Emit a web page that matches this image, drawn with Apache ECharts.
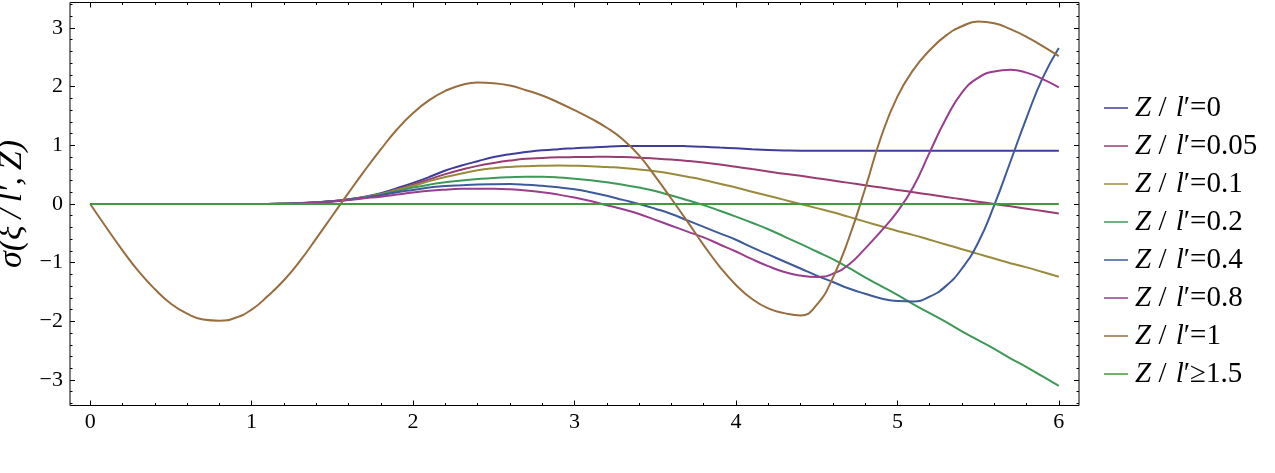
<!DOCTYPE html>
<html>
<head>
<meta charset="utf-8">
<script src="https://cdn.jsdelivr.net/npm/echarts@6/dist/echarts.min.js"></script>
<style>
html, body { margin: 0; padding: 0; background: #fff; }
#chart { width: 1275px; height: 473px; }
</style>
</head>
<body>
<div id="chart"></div>
<script>
// xi / l' sample points
var xValues = [0.0,0.1,0.2,0.3,0.4,0.5,0.6,0.7,0.8,0.9,
  1.0,1.1,1.2,1.3,1.4,1.5,1.6,1.7,1.8,1.9,
  2.0,2.1,2.2,2.3,2.4,2.5,2.6,2.7,2.8,2.9,
  3.0,3.1,3.2,3.3,3.4,3.5,3.6,3.7,3.8,3.9,
  4.0,4.1,4.2,4.3,4.4,4.5,4.6,4.7,4.8,4.9,
  5.0,5.1,5.2,5.3,5.4,5.5,5.6,5.7,5.8,5.9,6.0];

var seriesNames = ['Z / l′=0', 'Z / l′=0.05', 'Z / l′=0.1', 'Z / l′=0.2',
  'Z / l′=0.4', 'Z / l′=0.8', 'Z / l′=1', 'Z / l′≥1.5'];

var sigmaZ0 = [0,0,0,0,0,0,0,0,0,0,
  0,0,0.005,0.015,0.03,0.05,0.08,0.125,0.185,0.27,
  0.36,0.46,0.57,0.655,0.73,0.80,0.85,0.885,0.915,0.935,
  0.95,0.965,0.978,0.987,0.99,0.99,0.99,0.985,0.975,0.962,
  0.95,0.935,0.922,0.913,0.908,0.908,0.908,0.908,0.908,0.908,
  0.908,0.908,0.908,0.908,0.908,0.908,0.908,0.908,0.908,0.908,0.908];

var sigmaZ005 = [0,0,0,0,0,0,0,0,0,0,
  0,0,0.005,0.014,0.028,0.048,0.078,0.12,0.175,0.25,
  0.33,0.42,0.51,0.585,0.65,0.70,0.74,0.77,0.785,0.795,
  0.80,0.803,0.805,0.80,0.79,0.775,0.757,0.735,0.708,0.675,
  0.636,0.595,0.555,0.515,0.48,0.44,0.40,0.36,0.32,0.28,
  0.24,0.20,0.16,0.12,0.08,0.04,0.0,-0.04,-0.08,-0.12,-0.16];

var sigmaZ01 = [0,0,0,0,0,0,0,0,0,0,
  0,0,0.005,0.014,0.027,0.047,0.077,0.117,0.17,0.24,
  0.31,0.39,0.46,0.52,0.575,0.61,0.632,0.645,0.652,0.655,
  0.652,0.645,0.63,0.615,0.59,0.56,0.515,0.465,0.41,0.345,
  0.28,0.21,0.14,0.07,0.0,-0.07,-0.14,-0.22,-0.30,-0.38,
  -0.46,-0.53,-0.61,-0.69,-0.77,-0.85,-0.93,-1.01,-1.08,-1.16,-1.24];

var sigmaZ02 = [0,0,0,0,0,0,0,0,0,0,
  0,0,0.005,0.013,0.026,0.046,0.076,0.112,0.16,0.22,
  0.28,0.33,0.37,0.40,0.425,0.445,0.458,0.465,0.463,0.452,
  0.43,0.405,0.37,0.33,0.28,0.22,0.145,0.065,-0.02,-0.115,
  -0.215,-0.32,-0.43,-0.555,-0.68,-0.81,-0.94,-1.09,-1.25,-1.40,
  -1.55,-1.71,-1.86,-2.01,-2.17,-2.32,-2.47,-2.63,-2.78,-2.94,-3.10];

var sigmaZ04 = [0,0,0,0,0,0,0,0,0,0,
  0,0,0.004,0.012,0.025,0.045,0.074,0.108,0.15,0.20,
  0.24,0.28,0.305,0.32,0.332,0.338,0.34,0.33,0.31,0.285,
  0.25,0.20,0.14,0.07,0.0,-0.08,-0.17,-0.28,-0.39,-0.50,
  -0.61,-0.74,-0.86,-0.98,-1.10,-1.22,-1.33,-1.44,-1.53,-1.61,
  -1.655,-1.66,-1.58,-1.40,-1.10,-0.66,-0.02,0.72,1.47,2.15,2.66];

var sigmaZ08 = [0,0,0,0,0,0,0,0,0,0,
  0,0,0.004,0.011,0.023,0.042,0.068,0.097,0.125,0.16,
  0.195,0.225,0.245,0.258,0.262,0.26,0.25,0.23,0.20,0.16,
  0.11,0.05,-0.02,-0.09,-0.17,-0.27,-0.37,-0.47,-0.57,-0.69,
  -0.81,-0.94,-1.06,-1.16,-1.22,-1.245,-1.19,-1.03,-0.76,-0.46,
  -0.13,0.30,0.88,1.45,1.90,2.15,2.26,2.29,2.24,2.13,1.99];

var sigmaZ1 = [0,-0.40,-0.79,-1.15,-1.45,-1.70,-1.87,-1.97,-1.99,-1.94,
  -1.80,-1.57,-1.30,-0.97,-0.59,-0.20,0.19,0.57,0.93,1.27,
  1.55,1.77,1.93,2.03,2.07,2.06,2.02,1.94,1.85,1.73,
  1.60,1.46,1.30,1.10,0.83,0.47,0.09,-0.30,-0.70,-1.07,
  -1.38,-1.62,-1.78,-1.86,-1.90,-1.72,-1.26,-0.58,0.26,1.15,
  1.83,2.29,2.62,2.87,3.03,3.11,3.08,2.98,2.85,2.69,2.52];

var sigmaZ15 = [0,0,0,0,0,0,0,0,0,0,
  0,0,0,0,0,0,0,0,0,0,
  0,0,0,0,0,0,0,0,0,0,
  0,0,0,0,0,0,0,0,0,0,
  0,0,0,0,0,0,0,0,0,0,
  0,0,0,0,0,0,0,0,0,0,0];

var xTicks = [0, 6];
var yTicks = [-3, 3];
var yMinorRange = [-3.4, 3.4];

var allSeries = [sigmaZ0, sigmaZ005, sigmaZ01, sigmaZ02, sigmaZ04, sigmaZ08, sigmaZ1, sigmaZ15];

var serif = 'Liberation Serif';
var tickFont = { fontFamily: serif, fontSize: 22, color: '#000' };

function minusLabel(v) {
  return v < 0 ? '\u2212' + (-v) : String(v);
}

var myChart = echarts.init(document.getElementById('chart'), null, { renderer: 'canvas' });

var tickLine = { color: '#000', width: 1 };

var option = {
  animation: false,
  color: ['#3f3d99', '#993d71', '#998b3d', '#3d9956', '#3d5a99', '#993d90', '#996d3d', '#43993d'],
  legend: {
    orient: 'vertical',
    left: 1099,
    top: 88,
    icon: 'rect',
    itemWidth: 24,
    itemHeight: 1.5,
    itemGap: 8,
    data: seriesNames,
    formatter: function (name) {
      var rest = name.slice(name.indexOf('\u2032'));
      return '{i|Z}{n| / }{i|l}{n|' + rest + '}';
    },
    textStyle: {
      color: '#000',
      fontFamily: serif,
      fontSize: 29,
      lineHeight: 30,
      rich: {
        i: { fontFamily: serif, fontStyle: 'italic', fontSize: 29, color: '#000', padding: [0, 0, 0, 2] },
        n: { fontFamily: serif, fontSize: 29, color: '#000' }
      }
    }
  },
  grid: [
    // frame + data
    { left: 70, top: 2.5, width: 1009, height: 403, outerBoundsMode: 'none', show: true, borderColor: '#000', borderWidth: 1, backgroundColor: 'transparent' },
    // x ticks (0..6)
    { left: 90.18, top: 2.5, width: 968.64, height: 403, outerBoundsMode: 'none' },
    // y major ticks (-3..3)
    { left: 70, top: 28.02, width: 1009, height: 351.96, outerBoundsMode: 'none' },
    // y minor ticks (-3.4..3.4)
    { left: 70, top: 4.55, width: 1009, height: 398.9, outerBoundsMode: 'none' }
  ],
  xAxis: [
    { gridIndex: 0, type: 'value', min: -0.125, max: 6.125, show: false },
    {
      gridIndex: 1, type: 'value', position: 'bottom', min: xTicks[0], max: xTicks[1], interval: 1,
      axisLine: { show: false }, splitLine: { show: false },
      axisTick: { show: true, inside: true, length: 5, lineStyle: tickLine },
      minorTick: { show: true, splitNumber: 5, length: 2.5, lineStyle: tickLine },
      axisLabel: Object.assign({ margin: 6, formatter: minusLabel }, tickFont)
    },
    {
      gridIndex: 1, type: 'value', position: 'top', min: xTicks[0], max: xTicks[1], interval: 1,
      axisLine: { show: false }, splitLine: { show: false },
      axisTick: { show: true, inside: true, length: 5, lineStyle: tickLine },
      minorTick: { show: true, splitNumber: 5, length: 2.5, lineStyle: tickLine },
      axisLabel: { show: false }
    },
    { gridIndex: 2, type: 'value', min: 0, max: 1, show: false },
    { gridIndex: 3, type: 'value', min: 0, max: 1, show: false }
  ],
  yAxis: [
    { gridIndex: 0, type: 'value', min: -3.435, max: 3.435, show: false },
    { gridIndex: 1, type: 'value', min: 0, max: 1, show: false },
    {
      gridIndex: 2, type: 'value', position: 'left', min: yTicks[0], max: yTicks[1], interval: 1,
      axisLine: { show: false }, splitLine: { show: false },
      axisTick: { show: true, inside: true, length: 5, lineStyle: tickLine },
      axisLabel: Object.assign({ margin: 7, formatter: minusLabel }, tickFont),
      name: 'σ(ξ\u2009/\u2009l′,\u2009Z)',
      nameLocation: 'middle',
      nameRotate: 90,
      nameGap: 38,
      nameTextStyle: { fontFamily: serif, fontStyle: 'italic', fontSize: 34, color: '#000' }
    },
    {
      gridIndex: 2, type: 'value', position: 'right', min: yTicks[0], max: yTicks[1], interval: 1,
      axisLine: { show: false }, splitLine: { show: false },
      axisTick: { show: true, inside: true, length: 5, lineStyle: tickLine },
      axisLabel: { show: false }
    },
    {
      gridIndex: 3, type: 'value', position: 'left', min: yMinorRange[0], max: yMinorRange[1], interval: 0.2,
      axisLine: { show: false }, splitLine: { show: false },
      axisTick: { show: true, inside: true, length: 2.5, lineStyle: tickLine },
      axisLabel: { show: false }
    },
    {
      gridIndex: 3, type: 'value', position: 'right', min: yMinorRange[0], max: yMinorRange[1], interval: 0.2,
      axisLine: { show: false }, splitLine: { show: false },
      axisTick: { show: true, inside: true, length: 2.5, lineStyle: tickLine },
      axisLabel: { show: false }
    }
  ],
  series: allSeries.map(function (vals, k) {
    return {
      name: seriesNames[k],
      type: 'line',
      xAxisIndex: 0,
      yAxisIndex: 0,
      showSymbol: false,
      smooth: 0.5,
      lineStyle: { width: 2 },
      emphasis: { disabled: true },
      data: xValues.map(function (x, i) { return [x, vals[i]]; })
    };
  })
};

myChart.setOption(option);
</script>
</body>
</html>
